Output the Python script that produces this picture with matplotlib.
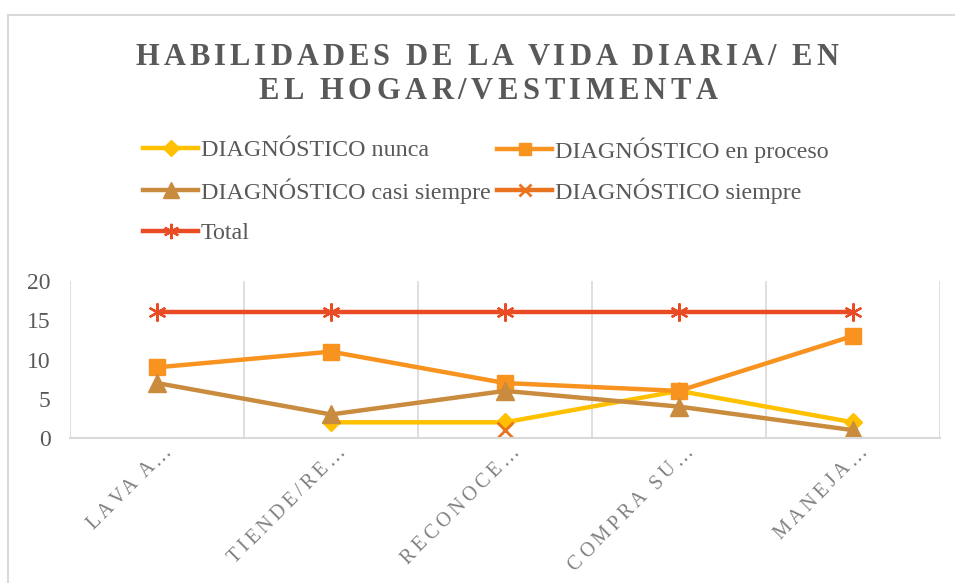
import numpy as np
import matplotlib
matplotlib.use("Agg")
import matplotlib.pyplot as plt
from matplotlib.font_manager import FontProperties
from matplotlib.transforms import IdentityTransform
from matplotlib.lines import Line2D

# chart data
title_lines = ["HABILIDADES DE LA VIDA DIARIA/ EN", "EL HOGAR/VESTIMENTA"]
categories = ["LAVA A…", "TIENDE/RE…", "RECONOCE…", "COMPRA SU…", "MANEJA…"]
nunca = [np.nan, 2, 2, 6, 2]
en_proceso = [9, 11, 7, 6, 13]
casi_siempre = [7, 3, 6, 4, 1]
siempre = [np.nan, np.nan, 1, np.nan, np.nan]
total = [16, 16, 16, 16, 16]

W, H = 955, 583
fig = plt.figure(figsize=(W / 100, H / 100), dpi=100)
ax = fig.add_axes([70 / W, 1 - 438 / H, 870 / W, 157 / H])

x = np.arange(len(categories))
ax.plot(x, nunca, color="#FFC000", lw=3.2, marker="D", ms=9, label="DIAGNÓSTICO nunca")
ax.plot(x, en_proceso, color="#F7931E", lw=3.2, marker="s", ms=11, label="DIAGNÓSTICO en proceso")
ax.plot(x, casi_siempre, color="#C98B3E", lw=3.2, marker="^", ms=13, label="DIAGNÓSTICO casi siempre")
ax.plot(x, siempre, color="#E9731E", lw=3.2, marker="x", ms=11, mew=2, label="DIAGNÓSTICO siempre")
ax.plot(x, total, color="#E94B25", lw=3.2, marker=(6, 2, 0), ms=13, mew=1.6, label="Total")

ax.set_xlim(-0.5, len(categories) - 0.5)
ax.set_ylim(0, 20)
ax.set_yticks([0, 5, 10, 15, 20])
ax.set_xticks([])
for b in np.arange(-0.5, len(categories), 1.0):
    ax.axvline(b, color="#d9d9d9", lw=1.2, zorder=0)
for s in ["top", "left", "right"]:
    ax.spines[s].set_visible(False)
ax.spines["bottom"].set_color("#d9d9d9")
ax.spines["bottom"].set_linewidth(1.5)
ax.tick_params(axis="y", length=0, pad=14, labelsize=17, labelcolor="#595959")
for t in ax.get_yticklabels():
    t.set_fontfamily("Liberation Serif")

# legend entries placed one by one (two columns, three rows)
h, l = ax.get_legend_handles_labels()
leg_pos = [(143, 150), (497, 150), (143, 191), (497, 191), (143, 233)]
leg_fp = FontProperties(family="Liberation Serif", size=17.3)
for hh, ll, (lx, ly) in zip(h, l, leg_pos):
    fig.legend([hh], [ll], loc="center left", bbox_to_anchor=(lx / W, 1 - ly / H),
               frameon=False, prop=leg_fp, labelcolor="#595959", handlelength=2.3,
               handletextpad=0.1, borderpad=0, borderaxespad=0, markerscale=0.85)

renderer = fig.canvas.get_renderer()


def text_w(s, fp):
    w, _, _ = renderer.get_text_width_height_descent(s, fp, ismath=False)
    return w


def spaced_text(s, x_end, y_base, fp, gap, color, angle=0.0, center=False):
    # draw text letter by letter with extra tracking (pixel coordinates)
    ref = text_w("H", fp)
    offs = [text_w(s[:i] + "H", fp) - ref + i * gap for i in range(len(s))]
    total_len = text_w(s, fp) + (len(s) - 1) * gap
    c, sn = np.cos(np.radians(angle)), np.sin(np.radians(angle))
    if center:
        x0, y0 = x_end - total_len / 2 * c, y_base - total_len / 2 * sn
    else:
        x0, y0 = x_end - total_len * c, y_base - total_len * sn
    for ch, o in zip(s, offs):
        if ch == " ":
            continue
        fig.text(x0 + o * c, y0 + o * sn, ch, fontproperties=fp, color=color,
                 rotation=angle, rotation_mode="anchor", ha="left", va="baseline",
                 transform=IdentityTransform())


title_fp = FontProperties(family="Liberation Serif", weight="bold", size=22)
spaced_text(title_lines[0], 487, H - 65, title_fp, 4.0, "#595959", center=True)
spaced_text(title_lines[1], 487, H - 99, title_fp, 4.6, "#595959", center=True)

xlab_fp = FontProperties(family="Liberation Serif", size=14.5)
for i, cat in enumerate(categories):
    px = ax.transData.transform((i, 0))[0]
    spaced_text(cat, px + 15, H - 452, xlab_fp, 3.8, "#808080", angle=45)

# chart area border
fig.add_artist(Line2D([8 / W, 1], [1 - 15 / H, 1 - 15 / H], color="#d9d9d9", lw=1.5))
fig.add_artist(Line2D([8 / W, 8 / W], [0, 1 - 15 / H], color="#d9d9d9", lw=1.5))

fig.savefig("out.png", dpi=100)
